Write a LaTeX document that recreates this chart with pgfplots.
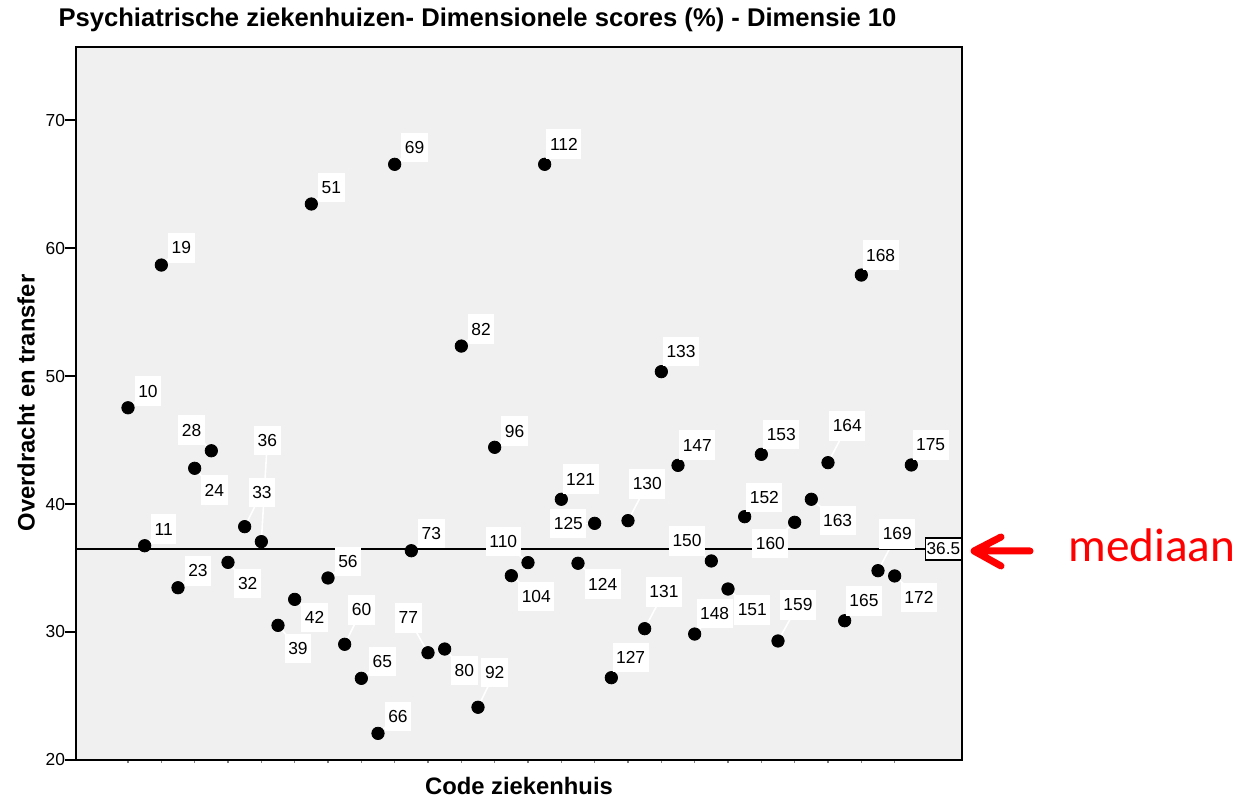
\documentclass[border=0pt]{standalone}
\usepackage{fontspec}
\setmainfont{Liberation Sans}
\newfontfamily\calibri{Carlito}
\usepackage{pgfplots}
\usepackage{pgfplotstable}
\pgfplotsset{compat=1.18}
\definecolor{bgray}{HTML}{F0F0F0}

\pgfplotstableread{
x y lab dx dy
0 47.52 10 20 -16.7
1 36.74 11 19 -16.7
2 58.67 19 20 -17.3
3 33.46 23 20 -17
4 42.79 24 19.7 21.7
5 44.16 28 -19.7 -20.7
6 35.44 32 19.7 21
7 38.23 33 17.3 -34.3
8 37.06 36 6 -101
9 30.52 39 20 23
10 32.55 42 20 18
11 63.44 51 20 -16.7
12 34.22 56 20 -16.3
13 29.04 60 17 -34.3
14 26.38 65 21 -16.7
15 22.08 66 20 -16.7
16 66.54 69 20 -17
17 36.35 73 20 -17.3
18 28.38 77 -19.7 -35
19 28.67 80 19.7 21.3
20 52.34 82 19.7 -17
21 24.12 92 16.7 -34.7
22 44.43 96 20 -16.3
23 34.40 104 25 21
24 35.42 110 -24.7 -21
25 66.54 112 19.3 -20.3
26 40.37 121 19.3 -20
27 35.37 124 24.7 21
28 38.49 125 -26.3 0
29 26.43 127 19.3 -20
30 38.70 130 19.3 -36.7
31 30.26 131 19.3 -36.7
32 50.34 133 19.7 -20
33 43.02 147 19.3 -20.3
34 29.84 148 20 -20.7
35 35.55 150 -24.3 -20
36 33.36 151 24.3 21
37 39.01 152 19.7 -19.3
38 43.88 153 20 -19.7
39 29.30 159 20 -36
40 38.57 160 -24.3 21
41 40.37 163 26.3 21.3
42 43.23 164 19.3 -36.7
43 30.88 165 19.3 -20
44 57.89 168 19.3 -20
45 34.79 169 19.3 -36.7
46 34.38 172 24.3 21.7
47 43.05 175 19.3 -20
}\pts

\begin{document}
\begin{tikzpicture}
\useasboundingbox (0,0) rectangle (619.5pt,399pt);
\begin{axis}[
  at={(38pt,19pt)}, anchor=south west,
  scale only axis, width=443pt, height=356.65pt,
  xmin=-3.12, xmax=50.04, ymin=20, ymax=75.73,
  axis background/.style={fill=bgray},
  axis line style={line width=0.9pt},
  xtick={0,2,...,46}, xticklabels={},
  ytick={20,30,...,70},
  xtick pos=bottom, ytick pos=left,
  tick align=outside,
  xtick style={gray, line width=0.6pt, /pgfplots/major tick length=1.5pt},
  ytick style={black, line width=0.9pt, /pgfplots/major tick length=5.5pt},
  /pgf/number format/assume math mode=true,
  ticklabel style={font=\fontsize{8.7}{10}\selectfont},
  yticklabel style={inner xsep=1pt},
  clip=false,
]
\addplot[only marks, mark=*, mark size=3.1pt, black] table[x=x,y=y]{\pts};
\addplot[white, line width=0.8pt, quiver={u={\thisrow{dx}/16.667}, v={-\thisrow{dy}/12.8}}] table[x=x,y=y]{\pts};
\addplot[only marks, mark=*, mark size=0.01pt, mark options={draw=none,fill=none},
  nodes near coords, point meta=explicit symbolic,
  every node near coord/.style={anchor=center, fill=white, text=black,
    font=\fontsize{8.7}{9}\selectfont, inner xsep=1.8pt, inner ysep=0pt, minimum height=14.8pt}]
  table[x expr=\thisrow{x}+\thisrow{dx}/16.667, y expr=\thisrow{y}-\thisrow{dy}/12.8, meta=lab]{\pts};
\addplot[black, line width=0.9pt] coordinates {(-3.12,36.5) (50.04,36.5)};
\node[draw, line width=0.7pt, fill=white, anchor=east, inner xsep=0.6pt, inner ysep=0pt,
  minimum height=11pt, font=\fontsize{8.6}{9}\selectfont] at (axis cs:50.04,36.5) {36.5};
\end{axis}
\node[anchor=base, font=\bfseries\fontsize{12.8}{14}\selectfont] at (238.75pt,385.5pt)
  {Psychiatrische ziekenhuizen- Dimensionele scores (\%) - Dimensie 10};
\node[anchor=base, font=\bfseries\fontsize{11.9}{13}\selectfont] at (259.5pt,1.5pt) {Code ziekenhuis};
\node[rotate=90, anchor=center, font=\bfseries\fontsize{11.9}{13}\selectfont] at (13pt,197.5pt) {Overdracht en transfer};
\draw[red, line width=3.5pt, line cap=round, line join=round]
  (500.5pt,130.5pt) -- (487pt,123.5pt) -- (500.5pt,116pt)
  (487pt,123.5pt) -- (515pt,123.5pt);
\node[anchor=base west, text=red, font=\calibri\fontsize{23.6}{26}\selectfont, inner sep=0pt] at (534pt,118.15pt) {mediaan};
\end{tikzpicture}
\end{document}
